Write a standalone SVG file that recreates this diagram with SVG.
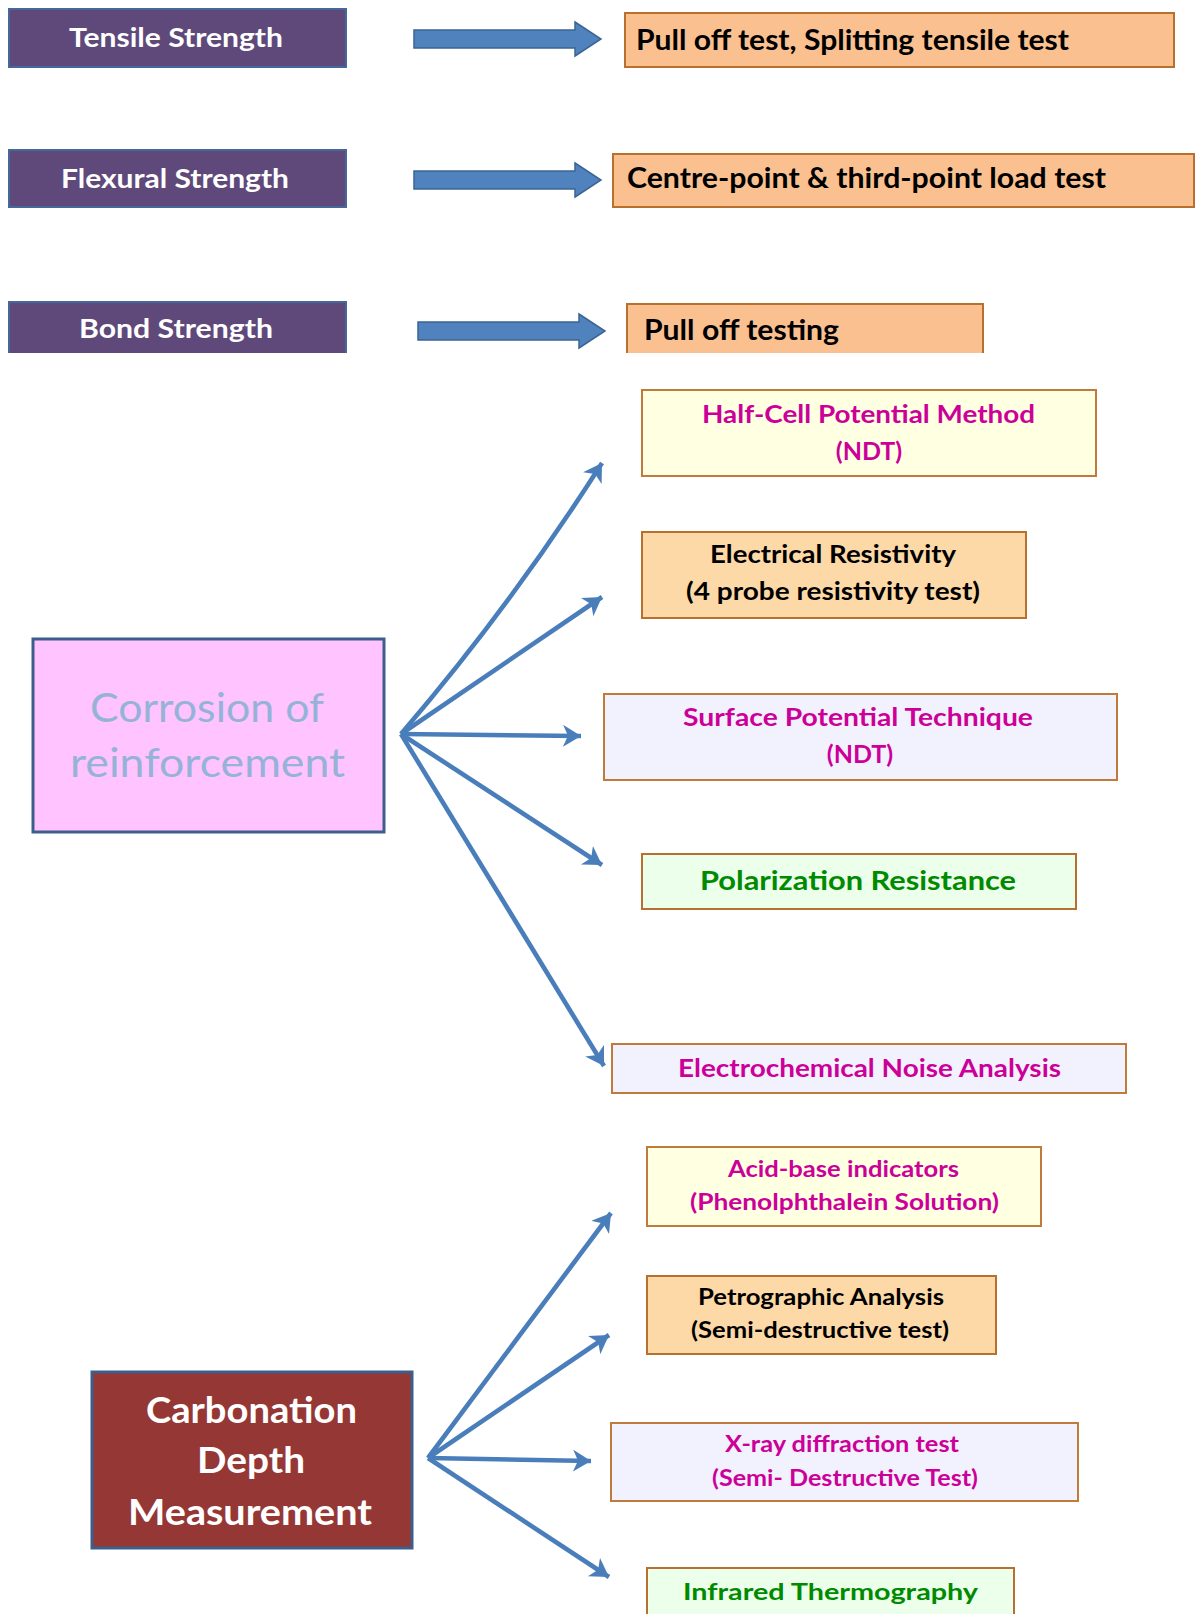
<svg xmlns="http://www.w3.org/2000/svg" width="1196" height="1614" viewBox="0 0 1196 1614">
<style>
text{font-family:"Lato","Liberation Sans",sans-serif;}
.b{font-weight:bold;}
.pur{fill:#5F497A;stroke:#46679A;stroke-width:2;}
.org{fill:#FAC090;stroke:#B8702E;stroke-width:2;}
.lorg{fill:#FDD9A8;stroke:#B8702E;stroke-width:2;}
.yel{fill:#FFFFE1;stroke:#C07A3A;stroke-width:2;}
.lav{fill:#F2F2FE;stroke:#C07A3A;stroke-width:2;}
.grn{fill:#EBFFEA;stroke:#B8702E;stroke-width:2;}
.blk{fill:#5083BE;stroke:#3A6494;stroke-width:1.5;}
.ln{fill:none;stroke:#4A7EBB;stroke-width:4.6;marker-end:url(#ah);}
.w{fill:#FFFFFF;}
.k{fill:#000000;}
.m{fill:#CC0099;}
.g{fill:#008A00;}
</style>
<defs>
<marker id="ah" markerUnits="userSpaceOnUse" markerWidth="22" markerHeight="24" refX="18" refY="11" orient="auto">
<path d="M0,0 L18,11 L0,22 L5,11 Z" fill="#4A7EBB"/>
</marker>
</defs>

<g id="connectors">
<path class="blk" d="M414,30 H575 V22 L601,39 L575,56 V48 H414 Z"/>
<path class="blk" d="M414,171 H575 V163 L601,180 L575,197 V189 H414 Z"/>
<path class="blk" d="M418,322 H579 V314 L605,331 L579,348 V340 H418 Z"/>
<path class="ln" d="M401,734 Q511,606 602,463"/>
<path class="ln" d="M401,734 L602,597"/>
<path class="ln" d="M401,734 L581,736"/>
<path class="ln" d="M401,734 L602,865"/>
<path class="ln" d="M401,734 L604,1066"/>
<path class="ln" d="M428,1458 L611,1213"/>
<path class="ln" d="M428,1458 L609,1335"/>
<path class="ln" d="M428,1458 L591,1461"/>
<path class="ln" d="M428,1458 L609,1577"/>
</g>

<g id="tensile">
<rect class="pur" x="9" y="9" width="337" height="58"/>
<text class="b w" x="69" y="47" font-size="26" textLength="214" lengthAdjust="spacingAndGlyphs">Tensile Strength</text>
</g>
<g id="flexural">
<rect class="pur" x="9" y="150" width="337" height="57"/>
<text class="b w" x="61" y="188" font-size="26" textLength="228" lengthAdjust="spacingAndGlyphs">Flexural Strength</text>
</g>
<g id="bond">
<rect x="9" y="302" width="337" height="51" fill="#5F497A"/>
<path d="M9,353 V302 H346 V353" fill="none" stroke="#46679A" stroke-width="2"/>
<text class="b w" x="79" y="338" font-size="26" textLength="194" lengthAdjust="spacingAndGlyphs">Bond Strength</text>
</g>

<g id="pulloff-split">
<rect class="org" x="625" y="13" width="549" height="54"/>
<text class="b k" x="636" y="50" font-size="28" textLength="433" lengthAdjust="spacingAndGlyphs">Pull off test, Splitting tensile test</text>
</g>
<g id="centre-point">
<rect class="org" x="613" y="154" width="581" height="53"/>
<text class="b k" x="627" y="188" font-size="28" textLength="479" lengthAdjust="spacingAndGlyphs">Centre-point &amp; third-point load test</text>
</g>
<g id="pulloff-testing">
<rect x="627" y="304" width="356" height="49" fill="#FAC090"/>
<path d="M627,353 V304 H983 V353" fill="none" stroke="#B8702E" stroke-width="2"/>
<text class="b k" x="644" y="340" font-size="28" textLength="195" lengthAdjust="spacingAndGlyphs">Pull off testing</text>
</g>

<g id="corrosion">
<rect x="33" y="639" width="351" height="193" fill="#FFC3FF" stroke="#3C5E8C" stroke-width="3"/>
<text x="90" y="722" font-size="40" fill="#95B3D7" textLength="234" lengthAdjust="spacingAndGlyphs">Corrosion of</text>
<text x="70" y="777" font-size="40" fill="#95B3D7" textLength="275" lengthAdjust="spacingAndGlyphs">reinforcement</text>
</g>

<g id="half-cell">
<rect class="yel" x="642" y="390" width="454" height="86"/>
<text class="b m" x="702" y="423" font-size="25" textLength="333" lengthAdjust="spacingAndGlyphs">Half-Cell Potential Method</text>
<text class="b m" x="869" y="460" font-size="25" text-anchor="middle">(NDT)</text>
</g>
<g id="electrical">
<rect class="lorg" x="642" y="532" width="384" height="86"/>
<text class="b k" x="710" y="563" font-size="25" textLength="246" lengthAdjust="spacingAndGlyphs">Electrical Resistivity</text>
<text class="b k" x="686" y="600" font-size="25" textLength="294" lengthAdjust="spacingAndGlyphs">(4 probe resistivity test)</text>
</g>
<g id="surface">
<rect class="lav" x="604" y="694" width="513" height="86"/>
<text class="b m" x="683" y="726" font-size="25" textLength="350" lengthAdjust="spacingAndGlyphs">Surface Potential Technique</text>
<text class="b m" x="860" y="763" font-size="25" text-anchor="middle">(NDT)</text>
</g>
<g id="polarization">
<rect class="grn" x="642" y="854" width="434" height="55"/>
<text class="b g" x="700" y="890" font-size="27" textLength="316" lengthAdjust="spacingAndGlyphs">Polarization Resistance</text>
</g>
<g id="electrochemical">
<rect class="lav" x="612" y="1044" width="514" height="49"/>
<text class="b m" x="678" y="1077" font-size="25" textLength="383" lengthAdjust="spacingAndGlyphs">Electrochemical Noise Analysis</text>
</g>

<g id="carbonation">
<rect x="92" y="1372" width="320" height="176" fill="#953735" stroke="#3C5E8C" stroke-width="3"/>
<text class="b w" x="146" y="1423" font-size="37" textLength="211" lengthAdjust="spacingAndGlyphs">Carbonation</text>
<text class="b w" x="197" y="1473" font-size="37" textLength="108" lengthAdjust="spacingAndGlyphs">Depth</text>
<text class="b w" x="128" y="1525" font-size="37" textLength="244" lengthAdjust="spacingAndGlyphs">Measurement</text>
</g>

<g id="acid-base">
<rect class="yel" x="647" y="1147" width="394" height="79"/>
<text class="b m" x="728" y="1177" font-size="22.5" textLength="231" lengthAdjust="spacingAndGlyphs">Acid-base indicators</text>
<text class="b m" x="690" y="1210" font-size="22.5" textLength="309" lengthAdjust="spacingAndGlyphs">(Phenolphthalein Solution)</text>
</g>
<g id="petrographic">
<rect class="lorg" x="647" y="1276" width="349" height="78"/>
<text class="b k" x="698" y="1305" font-size="22" textLength="246" lengthAdjust="spacingAndGlyphs">Petrographic Analysis</text>
<text class="b k" x="691" y="1338" font-size="22" textLength="258" lengthAdjust="spacingAndGlyphs">(Semi-destructive test)</text>
</g>
<g id="xray">
<rect class="lav" x="611" y="1423" width="467" height="78"/>
<text class="b m" x="725" y="1452" font-size="22" textLength="234" lengthAdjust="spacingAndGlyphs">X-ray diffraction test</text>
<text class="b m" x="712" y="1486" font-size="22" textLength="266" lengthAdjust="spacingAndGlyphs">(Semi- Destructive Test)</text>
</g>
<g id="infrared">
<rect class="grn" x="647" y="1568" width="367" height="60"/>
<text class="b g" x="683" y="1600" font-size="23.5" textLength="295" lengthAdjust="spacingAndGlyphs">Infrared Thermography</text>
</g>
</svg>
